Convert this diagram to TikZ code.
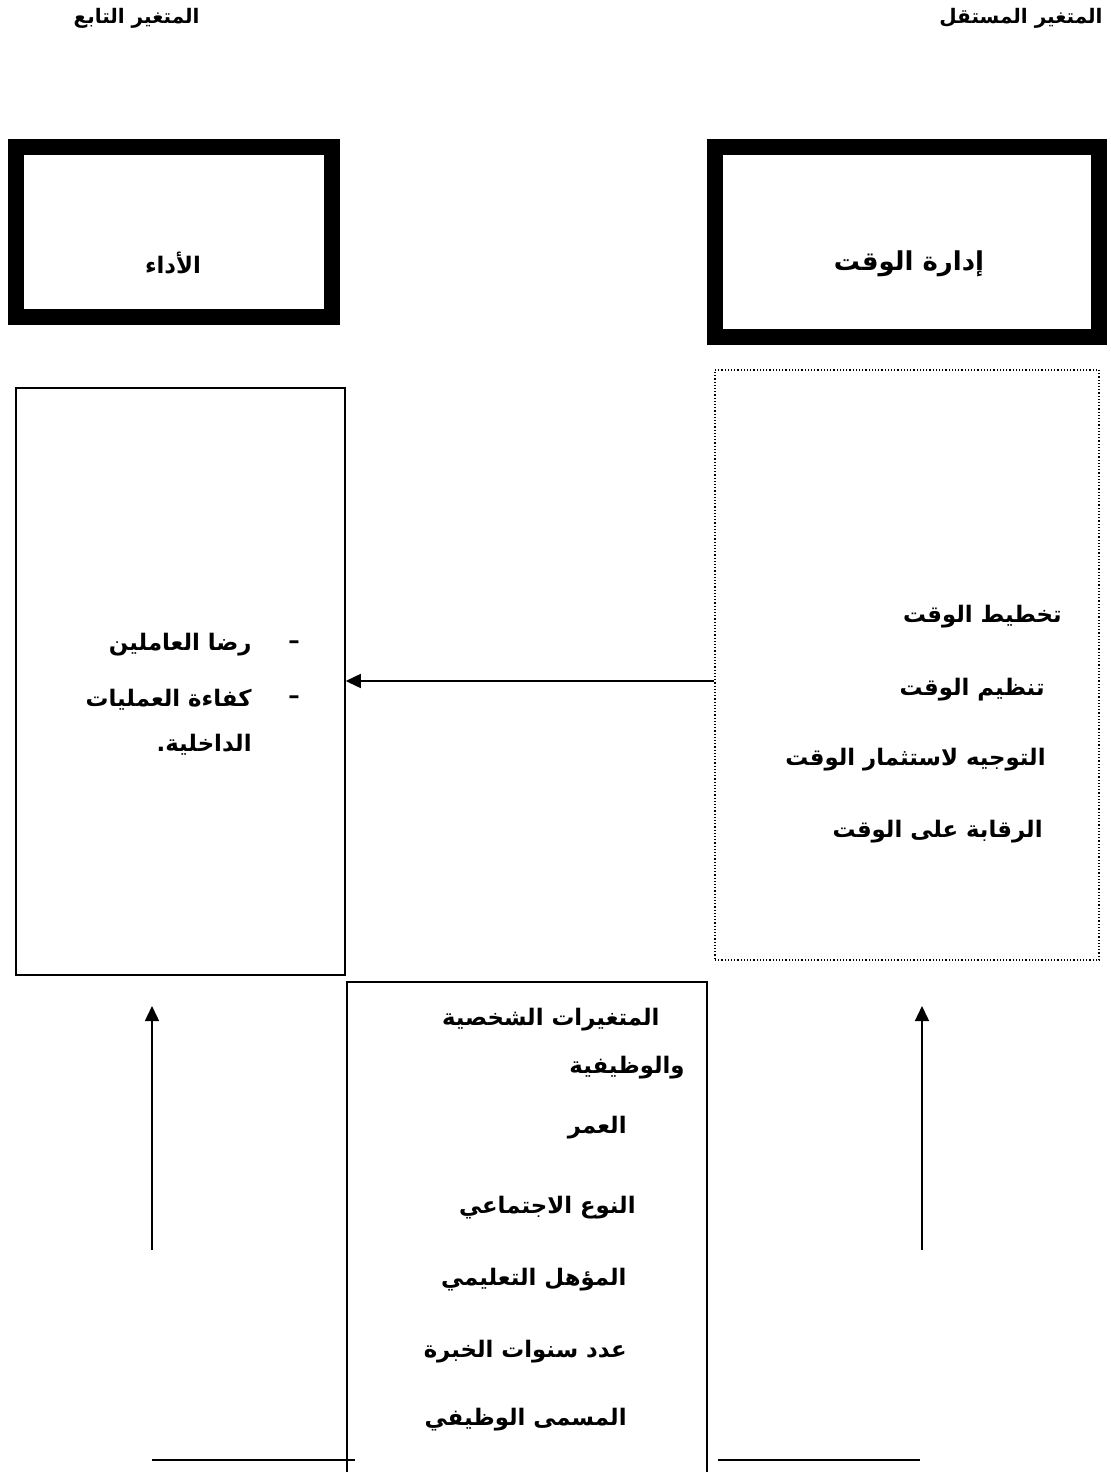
\documentclass[tikz,border=0pt]{standalone}
\usepackage{fontspec}
\usetikzlibrary{arrows.meta}
\TeXXeTstate=1
\newfontfamily\arabicfont[Script=Arabic]{DejaVu Sans}
\newcommand{\artxt}[1]{\arabicfont\bfseries\beginR #1\endR}
\begin{document}
\begin{tikzpicture}[x=0.5pt,y=-0.5pt,
  thickbox/.style={draw, line width=8pt, inner sep=0pt},
  thinbox/.style={draw, line width=0.75pt, inner sep=0pt},
  dotbox/.style={draw, line width=0.6pt, densely dotted, inner sep=0pt},
  lbl/.style={inner sep=0pt, font=\fontsize{11.4}{13}\selectfont},
  head/.style={inner sep=0pt, font=\fontsize{10}{12}\selectfont},
  big/.style={inner sep=0pt, font=\fontsize{13}{15}\selectfont},
  conn/.style={line width=0.75pt},
  arr/.style={line width=0.75pt, -{Triangle[length=7.5pt,width=7pt]}}]
\useasboundingbox (0,0) rectangle (1110,1472);
% headings
\node[head, anchor=east] (hind) at (1103,18) {\artxt{المتغير المستقل}};
\node[head, anchor=east] (hdep) at (200,18) {\artxt{المتغير التابع}};
% thick boxes
\node[thickbox, minimum width=158pt, minimum height=84.75pt] (dep) at (173.5,231.75) {};
\node[lbl] (deptxt) at (173,263) {\artxt{الأداء}};
\node[thickbox, minimum width=192.25pt, minimum height=95pt] (ind) at (906.75,242) {};
\node[big] (indtxt) at (909,264) {\artxt{إدارة الوقت}};
% left thin box
\node[thinbox, minimum width=164.5pt, minimum height=293.5pt] (lbox) at (180.5,681.5) {};
\node[lbl] (d1) at (294,645) {\arabicfont\bfseries –};
\node[lbl] (d2) at (294,700) {\arabicfont\bfseries –};
\node[lbl, anchor=east] (l1) at (252,645) {\artxt{رضا العاملين}};
\node[lbl, anchor=east] (l2) at (252,700) {\artxt{كفاءة العمليات}};
\node[lbl, anchor=east] (l3) at (252,745) {\artxt{الداخلية.}};
% right dotted box
\node[dotbox, minimum width=192pt, minimum height=295pt] (rbox) at (907,665) {};
\node[lbl, anchor=east] (r1) at (1062,617) {\artxt{تخطيط الوقت}};
\node[lbl, anchor=east] (r2) at (1045,690) {\artxt{تنظيم الوقت}};
\node[lbl, anchor=east] (r3) at (1046,760) {\artxt{التوجيه لاستثمار الوقت}};
\node[lbl, anchor=east] (r4) at (1043,832) {\artxt{الرقابة على الوقت}};
% middle box (open at the bottom)
\coordinate (mbl) at (347,1472);
\coordinate (mbr) at (707,1472);
\draw[conn] (mbl) |- (707,982) -- (mbr);
\node[lbl, anchor=east] (m1) at (660,1020) {\artxt{المتغيرات الشخصية}};
\node[lbl, anchor=east] (m2) at (685,1068) {\artxt{والوظيفية}};
\node[lbl, anchor=east] (m3) at (627,1128) {\artxt{العمر}};
\node[lbl, anchor=east] (m4) at (636,1208) {\artxt{النوع الاجتماعي}};
\node[lbl, anchor=east] (m5) at (627,1280) {\artxt{المؤهل التعليمي}};
\node[lbl, anchor=east] (m6) at (627,1352) {\artxt{عدد سنوات الخبرة}};
\node[lbl, anchor=east] (m7) at (627,1420) {\artxt{المسمى الوظيفي}};
% connectors
\draw[arr] (rbox.west |- 0,681) -- (lbox.east |- 0,681);
\coordinate (ua1) at (152,1250);
\coordinate (ua2) at (152,1006);
\coordinate (ub1) at (922,1250);
\coordinate (ub2) at (922,1006);
\draw[arr] (ua1) -- (ua2);
\draw[arr] (ub1) -- (ub2);
\coordinate (bl1) at (152,1460);
\coordinate (bl2) at (355,1460);
\coordinate (br1) at (718,1460);
\coordinate (br2) at (920,1460);
\draw[conn] (bl1) -- (bl2);
\draw[conn] (br1) -- (br2);
\end{tikzpicture}
\end{document}
